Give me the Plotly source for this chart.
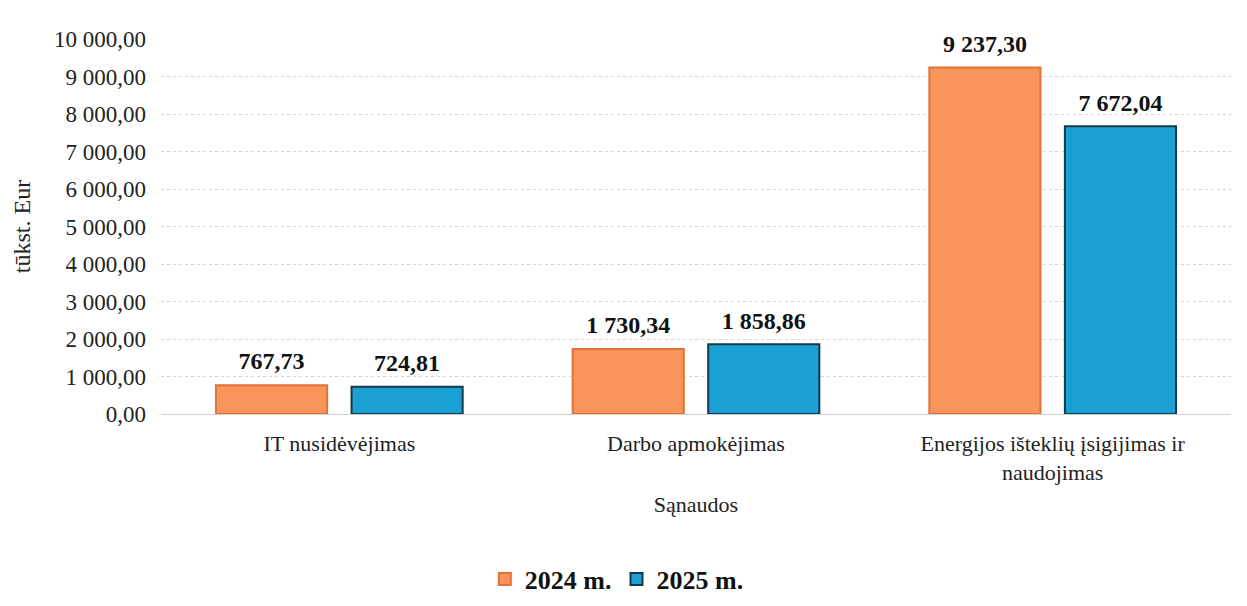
import plotly.graph_objects as go

categories = ["IT nusidėvėjimas", "Darbo apmokėjimas", "Energijos išteklių įsigijimas ir<br>naudojimas"]
values_2024 = [767.73, 1730.34, 9237.30]
values_2025 = [724.81, 1858.86, 7672.04]
series_names = ["2024 m.", "2025 m."]

label_font = dict(family="Liberation Serif", size=24, color="#111111", weight="bold")

fig = go.Figure()
fig.add_trace(go.Bar(
    x=categories, y=values_2024, name=series_names[0],
    marker=dict(color="#F7955B", line=dict(color="#E27238", width=2)),
))
fig.add_trace(go.Bar(
    x=categories, y=values_2025, name=series_names[1],
    marker=dict(color="#1AA0D3", line=dict(color="#17384A", width=2)),
))
# value labels, placed above the bars with some padding
for vals, name in ((values_2024, series_names[0]), (values_2025, series_names[1])):
    fig.add_trace(go.Scatter(
        x=categories, y=vals, mode="markers+text", name=name,
        marker=dict(size=14, opacity=0),
        texttemplate="%{y:,.2f}", textposition="top center",
        textfont=label_font, cliponaxis=False, showlegend=False,
        hoverinfo="skip",
    ))

fig.update_layout(
    width=1247, height=606,
    margin=dict(l=153, r=24, t=31, b=195),
    paper_bgcolor="white", plot_bgcolor="white",
    separators=", ",
    barmode="group", bargap=0.24, bargroupgap=0.18,
    scattermode="group", scattergap=0.24,
    font=dict(family="Liberation Serif", color="#222222"),
    xaxis=dict(
        automargin=False,
        tickfont=dict(size=22),
        ticklabelstandoff=10,
        title=dict(text="Sąnaudos", font=dict(size=22), standoff=12),
        showline=True, linecolor="#D0D0D0", linewidth=1,
        ticks="",
    ),
    yaxis=dict(
        automargin=False,
        range=[0, 10000], dtick=1000, tickformat=",.2f",
        tickfont=dict(size=23),
        ticklabelstandoff=14,
        title=dict(text="tūkst. Eur", font=dict(size=24), standoff=16),
        showgrid=True, gridcolor="#D6D6D6", griddash="dot", gridwidth=1,
        zeroline=False, ticks="",
    ),
    legend=dict(
        orientation="h", x=0.426, xanchor="center",
        y=-0.44, yanchor="middle",
        font=dict(size=26, color="#111111", family="Liberation Serif", weight="bold"),
        itemwidth=30, traceorder="normal",
    ),
    showlegend=True,
)

fig.write_html("out.html")
